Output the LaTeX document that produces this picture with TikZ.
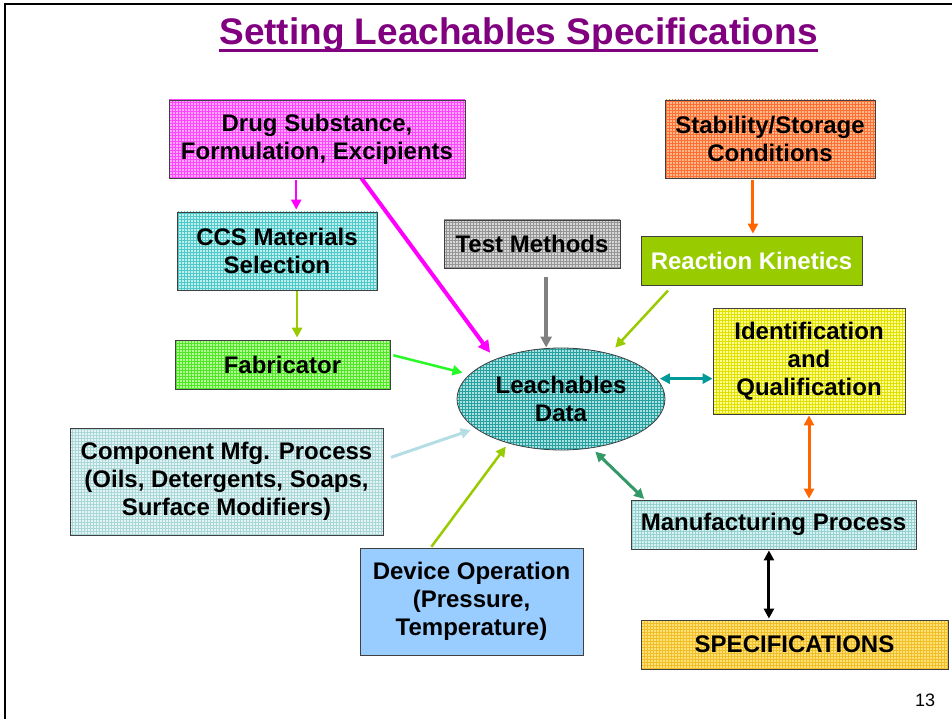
\documentclass[tikz,border=0pt]{standalone}
\usepackage{fontspec}
\setmainfont{Liberation Sans}
\usetikzlibrary{shapes.geometric,arrows.meta,calc}
\definecolor{titlepurple}{RGB}{128,0,128}
\definecolor{drugB}{RGB}{255,170,255}\definecolor{drugL}{RGB}{255,70,255}
\definecolor{ccsB}{RGB}{190,240,240}\definecolor{ccsL}{RGB}{80,200,200}
\definecolor{testB}{RGB}{215,215,215}\definecolor{testL}{RGB}{150,150,150}
\definecolor{stabB}{RGB}{255,185,140}\definecolor{stabL}{RGB}{255,110,50}
\definecolor{fabB}{RGB}{180,255,150}\definecolor{fabL}{RGB}{80,230,40}
\definecolor{identB}{RGB}{255,255,150}\definecolor{identL}{RGB}{225,225,0}
\definecolor{leachB}{RGB}{170,225,225}\definecolor{leachL}{RGB}{40,160,160}
\definecolor{compB}{RGB}{228,244,244}\definecolor{compL}{RGB}{170,215,215}
\definecolor{manuB}{RGB}{218,241,241}\definecolor{manuL}{RGB}{150,210,210}
\definecolor{specB}{RGB}{255,225,120}\definecolor{specL}{RGB}{240,190,40}
\definecolor{reactC}{RGB}{153,204,0}
\definecolor{devC}{RGB}{153,204,255}
\definecolor{magC}{RGB}{255,0,255}
\definecolor{ygC}{RGB}{153,204,0}
\definecolor{grnC}{RGB}{40,250,40}
\definecolor{grayC}{RGB}{128,128,128}
\definecolor{orgC}{RGB}{255,102,0}
\definecolor{tealC}{RGB}{0,153,153}
\definecolor{seaC}{RGB}{51,153,102}
\definecolor{ltbC}{RGB}{180,222,228}
\tikzset{
  box/.style={draw=black!75, line width=0.8pt, align=center, inner sep=0pt},
  gbox/.style 2 args={box, fill=#1, path picture={\draw[#2, line width=0.3pt]
      ([xshift=-3pt,yshift=-3pt]path picture bounding box.south west) grid[step=3pt]
      ([xshift=3pt,yshift=3pt]path picture bounding box.north east);}},
  con/.style={line width=3pt, -{Triangle[length=10pt,width=10pt]}},
  bicon/.style={line width=3pt, {Triangle[length=10pt,width=10pt]}-{Triangle[length=10pt,width=10pt]}},
}
\begin{document}
\begin{tikzpicture}[x=1pt,y=-1pt, font=\bfseries\fontsize{24}{28}\selectfont]
\useasboundingbox (0,0) rectangle (952,719);
\fill[white] (0,0) rectangle (952,719);
\draw[line width=2pt] (5,719) -- (5,4) -- (952,4);

% title
\node[font=\bfseries\fontsize{37}{40}\selectfont, text=titlepurple, inner sep=0pt, anchor=base] (title) at (518.5,45) {Setting Leachables Specifications};
\draw[titlepurple, line width=3pt] ([yshift=-6pt]title.base west) -- ([yshift=-6pt]title.base east);

% nodes
\node[gbox={drugB}{drugL}, minimum width=296pt, minimum height=78pt] (drug) at (317,139) {Drug Substance,\\Formulation, Excipients};
\node[gbox={stabB}{stabL}, minimum width=210pt, minimum height=78pt] (stab) at (770,139) {Stability/Storage\\Conditions};
\node[gbox={ccsB}{ccsL}, minimum width=200pt, minimum height=78pt] (ccs) at (277,251) {CCS Materials\\Selection};
\node[gbox={testB}{testL}, minimum width=176pt, minimum height=48pt] (test) at (532,244) {Test Methods};
\node[box, fill=reactC, text=white, minimum width=221pt, minimum height=49pt] (react) at (751.5,260.5) {Reaction Kinetics};
\node[gbox={fabB}{fabL}, minimum width=215pt, minimum height=49pt] (fab) at (282.5,364.5) {Fabricator};
\node[gbox={identB}{identL}, minimum width=192pt, minimum height=106pt] (ident) at (809,361) {Identification\\and\\Qualification};
\node[gbox={leachB}{leachL}, ellipse, minimum width=208pt, minimum height=102pt] (leach) at (561,399) {Leachables\\Data};
\node[gbox={compB}{compL}, minimum width=313pt, minimum height=107pt] (comp) at (226.5,481.5) {Component Mfg. Process\\(Oils, Detergents, Soaps,\\Surface Modifiers)};
\node[box, fill=devC, minimum width=223pt, minimum height=107pt] (dev) at (471.5,601.5) {Device Operation\\(Pressure,\\Temperature)};
\node[gbox={manuB}{manuL}, minimum width=285pt, minimum height=49pt] (manu) at (773.5,524.5) {Manufacturing Process};
\node[gbox={specB}{specL}, minimum width=307pt, minimum height=49pt] (spec) at (794.5,644.5) {SPECIFICATIONS};
\node[font=\fontsize{18}{20}\selectfont, inner sep=0pt] (pg) at (925,700) {13};

% connectors
\coordinate (d1) at ($(drug.south west)!0.43!(drug.south east)$);
\draw[con, magC, line width=2.5pt, shorten <=2pt, shorten >=2pt] (d1) -- (d1 |- ccs.north);
\draw[con, magC, line width=4pt, -{Triangle[length=12pt,width=12pt]}, shorten >=8pt] ($(drug.south west)!0.65!(drug.south east)$) -- (leach.149);

\coordinate (c2) at ($(ccs.south west)!0.6!(ccs.south east)$);
\draw[con, ygC, line width=2.5pt, shorten <=1pt, shorten >=2pt] (c2) -- (c2 |- fab.north);

\draw[con, grnC, line width=2.5pt, shorten <=3pt, shorten >=7pt] ($(fab.north east)!0.3!(fab.south east)$) -- (leach.165);

\coordinate (t1) at ($(test.south west)!0.58!(test.south east)$);
\draw[con, grayC, line width=4pt, -{Triangle[length=11pt,width=11pt]}, shorten <=9pt] (t1) -- (t1 |- leach.north);

\coordinate (s1) at ($(stab.south west)!0.419!(stab.south east)$);
\draw[con, orgC, shorten <=2pt, shorten >=2pt] (s1) -- (s1 |- react.north);

\draw[con, ygC, line width=2.5pt, shorten <=7pt, shorten >=8pt] ($(react.south west)!0.145!(react.south east)$) -- (leach.43);

\draw[bicon, tealC, shorten <=3pt] (leach.12) -- (leach.12 -| ident.west);

\draw[bicon, orgC, shorten <=1pt, shorten >=1pt] (ident.south) -- (ident.south |- manu.north);

\draw[bicon, seaC, shorten <=5pt, shorten >=1pt] (leach.-58) -- ($(manu.north west)!0.05!(manu.north east)$);

\coordinate (m2) at ($(manu.south west)!0.484!(manu.south east)$);
\draw[bicon, black, shorten <=1pt, shorten >=1pt] (m2) -- (m2 |- spec.north);

\draw[con, ltbC, shorten <=8pt, shorten >=5pt] ($(comp.north east)!0.3!(comp.south east)$) -- (leach.199);

\draw[con, ygC, line width=2.5pt, shorten <=1pt, shorten >=4pt] ($(dev.north west)!0.318!(dev.north east)$) -- (leach.220);
\end{tikzpicture}
\end{document}
